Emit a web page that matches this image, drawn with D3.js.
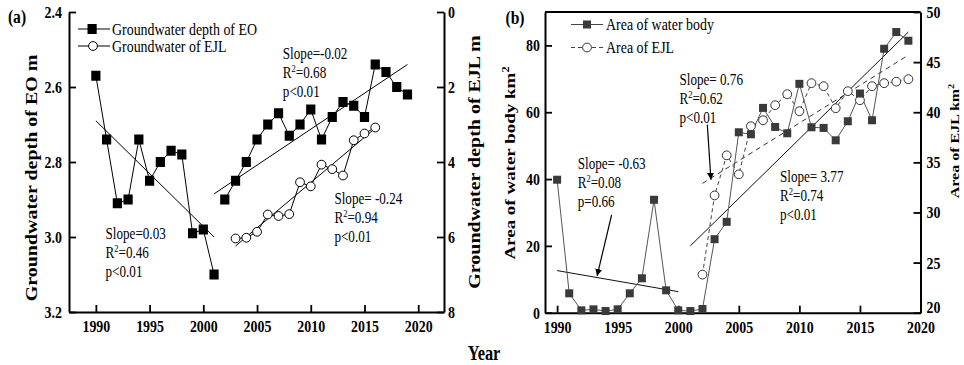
<!DOCTYPE html>
<html>
<head>
<meta charset="utf-8">
<script src="https://cdn.jsdelivr.net/npm/d3@7"></script>
<style>
  body { margin: 0; background: #fff; }
  svg { display: block; }
  text { font-family: "Liberation Serif", "Times New Roman", serif; fill: #000; }
</style>
</head>
<body>
<div id="chart"></div>
<script>
// ---- data ----
// (a) groundwater depth of EO (left axis, m) -- two separate runs
const eoYears1 = [1990, 1991, 1992, 1993, 1994, 1995, 1996, 1997, 1998, 1999, 2000, 2001];
const eoDepth1 = [2.57, 2.74, 2.91, 2.90, 2.74, 2.85, 2.80, 2.77, 2.78, 2.99, 2.98, 3.10];
const eoYears2 = [2002, 2003, 2004, 2005, 2006, 2007, 2008, 2009, 2010, 2011, 2012, 2013, 2014, 2015, 2016, 2017, 2018, 2019];
const eoDepth2 = [2.90, 2.85, 2.80, 2.74, 2.70, 2.67, 2.73, 2.70, 2.66, 2.74, 2.68, 2.64, 2.65, 2.68, 2.54, 2.56, 2.60, 2.62];
// (a) groundwater depth of EJL (right axis, m)
const ejlYears = [2003, 2004, 2005, 2006, 2007, 2008, 2009, 2010, 2011, 2012, 2013, 2014, 2015, 2016];
const ejlDepth = [6.04, 6.02, 5.86, 5.40, 5.44, 5.39, 4.54, 4.65, 4.07, 4.19, 4.36, 3.42, 3.24, 3.08];
// (a) fitted lines: [start, end]
const eoFit1 = [[1990, 2.69], [2001, 3.00]];
const eoFit2 = [[2001, 2.885], [2019, 2.54]];
const ejlFit = [[2003, 6.24], [2016, 3.10]];

// (b) area of water body (left axis, km2)
const waterYears = [1990, 1991, 1992, 1993, 1994, 1995, 1996, 1997, 1998, 1999, 2000, 2001, 2002, 2003, 2004,
                    2005, 2006, 2007, 2008, 2009, 2010, 2011, 2012, 2013, 2014, 2015, 2016, 2017, 2018, 2019];
const waterArea = [39.8, 5.8, 0.7, 1.0, 0.5, 1.0, 5.8, 10.3, 33.8, 6.7, 0.7, 0.5, 1.1, 22.0, 27.2,
                   54.0, 53.4, 61.3, 55.6, 53.7, 68.5, 55.5, 55.3, 51.6, 57.3, 65.6, 57.6, 79.0, 84.0, 81.4];
// (b) area of EJL (right axis, km2)
const ejlAreaYears = [2002, 2003, 2004, 2005, 2006, 2007, 2008, 2009, 2010, 2011, 2012, 2013, 2014, 2015, 2016, 2017, 2018, 2019];
const ejlArea = [23.8, 31.7, 35.7, 33.8, 38.6, 39.2, 40.7, 41.8, 40.1, 42.9, 42.6, 40.4, 42.1, 41.2, 42.6, 42.9, 43.05, 43.3];
// (b) fitted lines
const waterFit1 = [[1990, 12.6], [2000, 6.3]];
const waterFit2 = [[2001, 20.0], [2019, 84.0]];
const ejlAreaFit = [[2002, 32.9], [2019, 45.7]];
// (b) arrows, in left-axis units: [from, to]
const arrowLow = [[1994.5, 29.3], [1993.3, 11.0]];
const arrowEjl = [[2002.4, 56.3], [2002.7, 39.8]];

const yearTicks = [1990, 1995, 2000, 2005, 2010, 2015, 2020];
const eoTicks = [2.4, 2.6, 2.8, 3.0, 3.2];
const ejlTicks = [0, 2, 4, 6, 8];
const waterTicks = [0, 20, 40, 60, 80];
const ejlAreaTicks = [20, 25, 30, 35, 40, 45, 50];

// ---- drawing ----
const W = 964, H = 365;
const squeeze = 0.82; // lettering in the figure is narrowed horizontally

const svg = d3.select("#chart").append("svg")
    .attr("width", W)
    .attr("height", H);

svg.append("defs").append("marker")
    .attr("id", "head")
    .attr("viewBox", "0 0 10 10")
    .attr("refX", 10).attr("refY", 5)
    .attr("markerWidth", 7).attr("markerHeight", 9)
    .attr("markerUnits", "userSpaceOnUse")
    .attr("orient", "auto")
    .append("path").attr("d", "M0,0 L10,5 L0,10 Z").attr("fill", "#000");

// text helper: parts are strings or {sup: "2"}
function label(x, y, parts, size, opts) {
    opts = opts || {};
    const t = svg.append("text")
        .attr("transform", `translate(${x},${y}) scale(${squeeze},1)` + (opts.rotate ? " rotate(-90)" : ""))
        .attr("font-size", size)
        .attr("font-weight", opts.bold ? "bold" : "normal")
        .attr("text-anchor", opts.anchor || "start");
    const shift = size * 0.4;
    let up = false;
    parts.forEach(p => {
        if (typeof p === "string") {
            t.append("tspan").attr("dy", up ? shift : 0).text(p);
            up = false;
        } else {
            t.append("tspan").attr("dy", -shift).attr("font-size", size * 0.65).text(p.sup);
            up = true;
        }
    });
    return t;
}

function squeezeTicks(g) {
    g.selectAll(".tick text").each(function () {
        const s = d3.select(this);
        const x = +s.attr("x") || 0;
        s.attr("x", x / squeeze).attr("transform", `scale(${squeeze},1)`);
    });
}

function styleAxis(g, size) {
    g.select(".domain").attr("stroke-width", 2);
    g.selectAll(".tick line").attr("stroke-width", 1.8);
    g.selectAll(".tick text")
        .attr("font-family", '"Liberation Serif", "Times New Roman", serif')
        .attr("font-size", size).attr("font-weight", "bold").attr("fill", "#000");
    squeezeTicks(g);
}

function pts(xs, ys) { return xs.map((x, i) => [x, ys[i]]); }

// ===== panel (a) =====
const xa = d3.scaleLinear().domain([1987.5, 2022.4]).range([69, 444]);
const ya = d3.scaleLinear().domain([2.4, 3.2]).range([12, 312]);
const ya2 = d3.scaleLinear().domain([0, 8]).range([12, 312]);

svg.append("g").attr("transform", "translate(0,312)")
    .call(d3.axisBottom(xa).tickValues(yearTicks).tickFormat(d3.format("d")).tickSizeInner(-7).tickSizeOuter(0).tickPadding(8))
    .call(g => styleAxis(g, 17));
svg.append("g").attr("transform", "translate(69,0)")
    .call(d3.axisLeft(ya).tickValues(eoTicks).tickFormat(d3.format(".1f")).tickSizeInner(-7).tickSizeOuter(0).tickPadding(7))
    .call(g => styleAxis(g, 17));
svg.append("g").attr("transform", "translate(444,0)")
    .call(d3.axisRight(ya2).tickValues(ejlTicks).tickFormat(d3.format("d")).tickSizeInner(-7).tickSizeOuter(0).tickPadding(4))
    .call(g => styleAxis(g, 17));

const lineA = d3.line().x(d => xa(d[0])).y(d => ya(d[1]));
const lineA2 = d3.line().x(d => xa(d[0])).y(d => ya2(d[1]));

[eoFit1, eoFit2].forEach(f => svg.append("path").attr("d", lineA(f)).attr("fill", "none").attr("stroke", "#000").attr("stroke-width", 1));
svg.append("path").attr("d", lineA2(ejlFit)).attr("fill", "none").attr("stroke", "#000").attr("stroke-width", 1);

[pts(eoYears1, eoDepth1), pts(eoYears2, eoDepth2)].forEach(run => {
    svg.append("path").attr("d", lineA(run)).attr("fill", "none").attr("stroke", "#000").attr("stroke-width", 1);
    svg.append("g").selectAll("rect").data(run).enter().append("rect")
        .attr("x", d => xa(d[0]) - 4.6).attr("y", d => ya(d[1]) - 5)
        .attr("width", 9.2).attr("height", 10).attr("fill", "#000");
});

const ejlRun = pts(ejlYears, ejlDepth);
svg.append("path").attr("d", lineA2(ejlRun)).attr("fill", "none").attr("stroke", "#000").attr("stroke-width", 1);
svg.append("g").selectAll("circle").data(ejlRun).enter().append("circle")
    .attr("cx", d => xa(d[0])).attr("cy", d => ya2(d[1])).attr("r", 4.4)
    .attr("fill", "#fff").attr("stroke", "#000").attr("stroke-width", 1);

// legend (a)
svg.append("line").attr("x1", 78).attr("x2", 110).attr("y1", 29).attr("y2", 29).attr("stroke", "#000");
svg.append("rect").attr("x", 87.5).attr("y", 24).attr("width", 9.2).attr("height", 10).attr("fill", "#000");
label(112, 34.5, ["Groundwater depth of EO"], 17);
svg.append("line").attr("x1", 78).attr("x2", 110).attr("y1", 46).attr("y2", 46).attr("stroke", "#000");
svg.append("circle").attr("cx", 93).attr("cy", 46).attr("r", 4.4).attr("fill", "#fff").attr("stroke", "#000");
label(112, 51.5, ["Groundwater of EJL"], 17);

// annotations (a)
function statBlock(x, y0, lines, size) {
    lines.forEach((parts, i) => label(x, y0 + i * 19, parts, size));
}
statBlock(xa(2007.4), 59, [["Slope=-0.02"], ["R", {sup: "2"}, "=0.68"], ["p<0.01"]], 16);
statBlock(xa(1990.9), 239, [["Slope=0.03"], ["R", {sup: "2"}, "=0.46"], ["p<0.01"]], 16);
statBlock(xa(2012.2), 204, [["Slope= -0.24"], ["R", {sup: "2"}, "=0.94"], ["p<0.01"]], 16);

label(17, 23, ["(a)"], 19, {bold: true, anchor: "middle"});
label(37, 178, ["Groundwater depth of EO m"], 20, {bold: true, rotate: true, anchor: "middle"});
label(480, 162, ["Groundwater depth of EJL m"], 20, {bold: true, rotate: true, anchor: "middle"});

// ===== panel (b) =====
const xb = d3.scaleLinear().domain([1989, 2020]).range([545, 920.5]);
const yb = d3.scaleLinear().domain([0, 90]).range([312.7, 12]);
const yb2 = d3.scaleLinear().domain([20, 50]).range([312.7, 12]);

svg.append("line").attr("x1", 545).attr("x2", 920.5).attr("y1", 12).attr("y2", 12)
    .attr("stroke", "#000").attr("stroke-width", 2);
svg.append("g").attr("transform", "translate(0,312.7)")
    .call(d3.axisBottom(xb).tickValues(yearTicks).tickFormat(d3.format("d")).tickSizeInner(-7).tickSizeOuter(0).tickPadding(8))
    .call(g => styleAxis(g, 17));
svg.append("g").attr("transform", "translate(545,0)")
    .call(d3.axisLeft(yb).tickValues(waterTicks).tickFormat(d3.format("d")).tickSizeInner(-7).tickSizeOuter(0).tickPadding(5))
    .call(g => styleAxis(g, 17));
svg.append("g").attr("transform", "translate(920.5,0)")
    .call(d3.axisRight(yb2).tickValues(ejlAreaTicks).tickFormat(d3.format("d")).tickSizeInner(-7).tickSizeOuter(0).tickPadding(6))
    .call(g => styleAxis(g, 17))
    // lowest label sits just above the "2020" year label
    .call(g => g.selectAll(".tick text").filter(d => d === 20).attr("dy", "-0.02em"));

const lineB = d3.line().x(d => xb(d[0])).y(d => yb(d[1]));
const lineB2 = d3.line().x(d => xb(d[0])).y(d => yb2(d[1]));

[waterFit1, waterFit2].forEach(f => svg.append("path").attr("d", lineB(f)).attr("fill", "none").attr("stroke", "#111").attr("stroke-width", 1));
svg.append("path").attr("d", lineB2(ejlAreaFit)).attr("fill", "none").attr("stroke", "#333")
    .attr("stroke-width", 1).attr("stroke-dasharray", "5,4");

const waterRun = pts(waterYears, waterArea);
const ejlAreaRun = pts(ejlAreaYears, ejlArea);
svg.append("path").attr("d", lineB2(ejlAreaRun)).attr("fill", "none").attr("stroke", "#444")
    .attr("stroke-width", 1).attr("stroke-dasharray", "4,3");
svg.append("path").attr("d", lineB(waterRun)).attr("fill", "none").attr("stroke", "#555").attr("stroke-width", 1);
svg.append("g").selectAll("circle").data(ejlAreaRun).enter().append("circle")
    .attr("cx", d => xb(d[0])).attr("cy", d => yb2(d[1])).attr("r", 4.4)
    .attr("fill", "#fff").attr("stroke", "#333").attr("stroke-width", 1);
svg.append("g").selectAll("rect").data(waterRun).enter().append("rect")
    .attr("x", d => xb(d[0]) - 4).attr("y", d => yb(d[1]) - 4)
    .attr("width", 8).attr("height", 8).attr("fill", "#3a3a3a");

[arrowLow, arrowEjl].forEach(a => svg.append("path").attr("d", lineB(a)).attr("fill", "none")
    .attr("stroke", "#000").attr("stroke-width", 1.2).attr("marker-end", "url(#head)"));

// legend (b)
svg.append("line").attr("x1", 571).attr("x2", 603).attr("y1", 24.5).attr("y2", 24.5).attr("stroke", "#444");
svg.append("rect").attr("x", 583).attr("y", 20.5).attr("width", 8).attr("height", 8).attr("fill", "#3a3a3a");
label(606, 30, ["Area of water body"], 17);
svg.append("line").attr("x1", 571).attr("x2", 603).attr("y1", 47.5).attr("y2", 47.5)
    .attr("stroke", "#444").attr("stroke-dasharray", "4,3");
svg.append("circle").attr("cx", 587).attr("cy", 47.5).attr("r", 4.4).attr("fill", "#fff").attr("stroke", "#333");
label(606, 53, ["Area of EJL"], 17);

statBlock(xb(1991.7), 169, [["Slope= -0.63"], ["R", {sup: "2"}, "=0.08"], ["p=0.66"]], 16);
statBlock(xb(2000.1), 85, [["Slope= 0.76"], ["R", {sup: "2"}, "=0.62"], ["p<0.01"]], 16);
statBlock(xb(2008.4), 182, [["Slope= 3.77"], ["R", {sup: "2"}, "=0.74"], ["p<0.01"]], 16);

label(515, 24, ["(b)"], 19, {bold: true, anchor: "middle"});
label(515, 163, ["Area of water body km", {sup: "2"}], 19, {bold: true, rotate: true, anchor: "middle"});
label(959, 141, ["Area of EJL km", {sup: "2"}], 16, {bold: true, rotate: true, anchor: "middle"});

label(484, 360, ["Year"], 20, {bold: true, anchor: "middle"});
</script>
</body>
</html>
